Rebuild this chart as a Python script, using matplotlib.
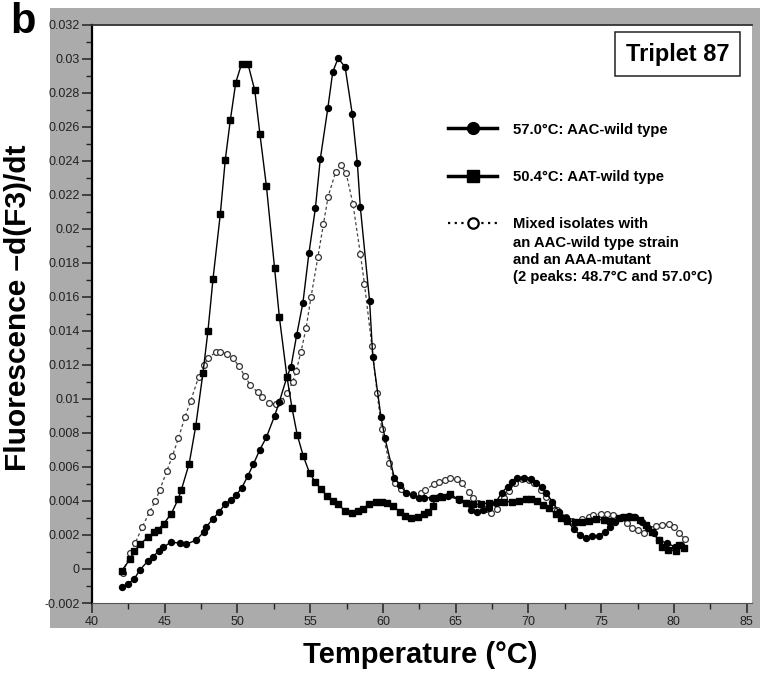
import matplotlib
matplotlib.use("Agg")
from matplotlib import pyplot as plt
from matplotlib.lines import Line2D
from matplotlib.patches import Rectangle
from matplotlib.ticker import MultipleLocator

# AAT wild type (square markers, peak 50.4 C)
aat_t = [42.04, 42.61, 42.91, 43.29, 43.86, 44.25, 44.51, 44.93, 45.45, 45.92,
         46.14, 46.68, 47.13, 47.63, 47.97, 48.32, 48.82, 49.16, 49.51, 49.88,
         50.28, 50.72, 51.19, 51.54, 51.99, 52.55, 52.88, 53.4, 53.75, 54.11,
         54.52, 54.96, 55.36, 55.72, 56.15, 56.55, 56.93, 57.4, 57.87, 58.27,
         58.61, 59.07, 59.52, 59.91, 60.26, 60.71, 61.14, 61.5, 61.92, 62.39,
         62.79, 63.07, 63.45, 63.55, 64.06, 64.58, 65.2, 65.71, 66.17, 66.74,
         67.31, 67.85, 68.35, 68.9, 69.36, 69.82, 70.16, 70.62, 71.02, 71.41,
         71.88, 72.21, 72.67, 73.2, 73.69, 74.18, 74.62, 75.17, 75.64, 76.21,
         76.66, 77.13, 77.7, 78.11, 78.5, 78.94, 79.19, 79.6, 80.13, 80.33, 80.67]
aat_f = [-0.0001, 0.00057, 0.00104, 0.00145, 0.00188, 0.00216, 0.00228, 0.00267, 0.00325, 0.0041,
         0.00465, 0.0062, 0.0084, 0.01155, 0.014, 0.01708, 0.02088, 0.02406, 0.02641, 0.0286,
         0.0297, 0.0297, 0.02814, 0.02559, 0.0225, 0.01769, 0.0148, 0.0113, 0.00945, 0.00788,
         0.00665, 0.00563, 0.0051, 0.00472, 0.00429, 0.00402, 0.0038, 0.00341, 0.00327, 0.00341,
         0.00355, 0.00382, 0.00394, 0.00394, 0.00388, 0.0037, 0.00337, 0.00311, 0.00298, 0.00308,
         0.00322, 0.00333, 0.0037, 0.00416, 0.00425, 0.00441, 0.0041, 0.0039, 0.0038, 0.00382,
         0.0039, 0.00395, 0.00396, 0.00396, 0.00402, 0.00412, 0.00412, 0.00402, 0.00376, 0.00357,
         0.00322, 0.00298, 0.00284, 0.00278, 0.00278, 0.00284, 0.00292, 0.00288, 0.00284, 0.00298,
         0.00308, 0.00308, 0.00288, 0.00259, 0.00219, 0.0017, 0.00131, 0.00112, 0.00106, 0.00141, 0.00122]

# AAC wild type (filled circles, peak 57.0 C)
aac_t = [42.04, 42.45, 42.91, 43.29, 43.86, 44.2, 44.6, 44.9, 45.45, 46.04,
         46.44, 47.17, 47.68, 47.87, 48.32, 48.71, 49.16, 49.53, 49.91, 50.3,
         50.72, 51.1, 51.54, 51.99, 52.55, 52.88, 53.4, 53.68, 54.07, 54.5,
         54.91, 55.36, 55.69, 56.21, 56.55, 56.92, 57.4, 57.89, 58.24, 58.44,
         59.08, 59.3, 59.86, 60.14, 60.78, 61.14, 61.6, 62.04, 62.45, 62.84,
         63.4, 63.9, 64.5, 65.25, 65.71, 66.07, 66.44, 66.86, 67.31, 67.76,
         68.15, 68.57, 68.9, 69.23, 69.72, 70.16, 70.52, 70.91, 71.2, 71.64,
         72.09, 72.55, 73.12, 73.57, 73.97, 74.37, 74.83, 75.24, 75.63, 75.96,
         76.42, 76.88, 77.34, 77.83, 78.25, 78.6, 78.98, 79.51, 80.09, 80.5]
aac_f = [-0.00104, -0.0009, -0.00057, -0.00006, 0.00049, 0.00072, 0.00108, 0.00128, 0.00159, 0.00151,
         0.00145, 0.0017, 0.00218, 0.00249, 0.00296, 0.00333, 0.00382, 0.00406, 0.00435, 0.00478,
         0.00549, 0.00618, 0.00702, 0.00775, 0.009, 0.00984, 0.0113, 0.0119, 0.01376, 0.01567,
         0.01857, 0.02125, 0.0241, 0.0271, 0.02924, 0.03004, 0.02951, 0.02675, 0.02386, 0.02131,
         0.01576, 0.01249, 0.00896, 0.00769, 0.00537, 0.00494, 0.00449, 0.00435, 0.00419, 0.00419,
         0.0042, 0.0043, 0.0043, 0.00406, 0.00386, 0.00347, 0.00337, 0.00347, 0.00357, 0.0039,
         0.00449, 0.00484, 0.00514, 0.00533, 0.00537, 0.00528, 0.00504, 0.0048, 0.00449, 0.00396,
         0.00337, 0.00298, 0.00233, 0.002, 0.0018, 0.00194, 0.00194, 0.00219, 0.00249, 0.00278,
         0.00308, 0.00314, 0.00308, 0.00278, 0.00239, 0.0021, 0.0017, 0.00151, 0.00131, 0.00141]

# mixed isolates (open circles, peaks 48.7 and 57.0 C)
mix_t = [42.15, 42.61, 42.96, 43.47, 43.96, 44.36, 44.66, 45.15, 45.53, 45.94,
         46.38, 46.79, 47.33, 47.7, 47.97, 48.55, 48.82, 49.28, 49.69, 50.07,
         50.5, 50.88, 51.39, 51.69, 52.16, 52.62, 53.01, 53.4, 53.8, 54.04,
         54.37, 54.72, 55.06, 55.53, 55.91, 56.23, 56.74, 57.1, 57.47, 57.94,
         58.45, 58.73, 59.24, 59.6, 59.91, 60.44, 60.86, 61.24, 61.6, 62.04,
         62.58, 62.88, 63.51, 63.86, 64.26, 64.58, 65.1, 65.4, 65.9, 66.2,
         66.53, 67.05, 67.46, 67.85, 68.32, 68.66, 69.11, 69.56, 70.02, 70.37,
         70.83, 71.18, 71.64, 71.98, 72.55, 73.01, 73.67, 74.15, 74.47, 74.96,
         75.42, 75.84, 76.22, 76.79, 77.13, 77.53, 77.93, 78.4, 78.78, 79.19,
         79.63, 79.99, 80.32, 80.78]
mix_f = [-0.00022, 0.00092, 0.00151, 0.00249, 0.00337, 0.004, 0.00465, 0.00578, 0.00665, 0.00769,
         0.00892, 0.0099, 0.0113, 0.012, 0.0124, 0.01278, 0.01278, 0.01265, 0.0124, 0.01196,
         0.01135, 0.01082, 0.01039, 0.01014, 0.00978, 0.0097, 0.00988, 0.01033, 0.011, 0.01167,
         0.01278, 0.0142, 0.01602, 0.01837, 0.02029, 0.0219, 0.02333, 0.02373, 0.02327, 0.02145,
         0.01851, 0.01675, 0.0131, 0.01033, 0.00824, 0.00622, 0.00504, 0.00469, 0.00445, 0.00439,
         0.00449, 0.00465, 0.00498, 0.0051, 0.00524, 0.00537, 0.00529, 0.00504, 0.00455, 0.0042,
         0.00386, 0.00351, 0.00327, 0.00351, 0.00416, 0.00459, 0.00508, 0.00528, 0.00524, 0.00508,
         0.00465, 0.00425, 0.00376, 0.00347, 0.00308, 0.00284, 0.00292, 0.00308, 0.00318, 0.00324,
         0.00324, 0.00318, 0.00298, 0.00269, 0.00239, 0.00229, 0.00214, 0.00235, 0.00253, 0.00259,
         0.00265, 0.00249, 0.00214, 0.00175]

labels = ["57.0°C: AAC-wild type",
          "50.4°C: AAT-wild type",
          "Mixed isolates with"]
mix_note = "an AAC-wild type strain\nand an AAA-mutant\n(2 peaks: 48.7°C and 57.0°C)"

narrow = ["Liberation Sans Narrow", "Liberation Sans", "DejaVu Sans"]
bold = ["Liberation Sans", "DejaVu Sans"]

fig = plt.figure(figsize=(7.68, 6.77), dpi=100)
# grey panel behind the plot
fig.patches.append(Rectangle((0.065, 0.0724), 0.925, 0.916, transform=fig.transFigure,
                             facecolor="#ababab", edgecolor="none", zorder=-1))
ax = fig.add_axes([0.1198, 0.1093, 0.86, 0.854])
ax.set_zorder(1)
ax.set_facecolor("white")

ax.plot(mix_t, mix_f, color="#444444", linestyle=(0, (2.5, 2)), linewidth=0.9,
        marker="o", markersize=4.2, markerfacecolor="white", markeredgecolor="#333333",
        markeredgewidth=0.9, zorder=3)
ax.plot(aat_t, aat_f, color="black", linewidth=1.0, marker="s", markersize=4.2, zorder=4)
ax.plot(aac_t, aac_f, color="black", linewidth=1.0, marker="o", markersize=4.3, zorder=5)

ax.set_xlim(40, 85.4)
ax.set_ylim(-0.002, 0.032)
ax.set_xticks([40, 45, 50, 55, 60, 65, 70, 75, 80, 85])
ax.xaxis.set_minor_locator(MultipleLocator(2.5))
yt = [-0.002 + 0.002 * i for i in range(18)]
ax.set_yticks(yt)
ax.set_yticklabels([f"{round(v, 3):g}" for v in yt])
ax.yaxis.set_minor_locator(MultipleLocator(0.001))
ax.set_ylim(-0.002, 0.032)
ax.tick_params(axis="both", which="major", length=7, width=1.1, color="#222222",
               labelsize=9, labelcolor="#222222", pad=2)
ax.tick_params(axis="both", which="minor", length=4, width=1.0, color="#222222")
for lab in ax.get_xticklabels() + ax.get_yticklabels():
    lab.set_family(narrow)

ax.spines["left"].set_linewidth(1.6)
ax.spines["top"].set_linewidth(1.3)
ax.spines["top"].set_color("#333333")
ax.spines["right"].set_visible(False)
ax.spines["bottom"].set_linewidth(0.8)
ax.spines["bottom"].set_color("#555555")

fig.text(0.547, 0.033, "Temperature (°C)", ha="center", va="center",
         fontsize=21, fontweight="bold", family=bold)
fig.text(0.024, 0.545, "Fluorescence \u2013d(F3)/dt", ha="center", va="center",
         rotation=90, fontsize=21.5, fontweight="bold", family=bold)
fig.text(0.014, 0.968, "b", ha="left", va="center", fontsize=30, fontweight="bold", family=bold)

ax.text(0.887, 0.949, "Triplet 87", transform=ax.transAxes, ha="center", va="center",
        fontsize=17, fontweight="bold", family=bold,
        bbox=dict(boxstyle="square,pad=0.45", facecolor="white", edgecolor="#222222", linewidth=1.1))

handles = [Line2D([], [], color="black", linewidth=2.5, marker="o", markersize=8.5),
           Line2D([], [], color="black", linewidth=2.5, marker="s", markersize=8.5),
           Line2D([], [], color="black", linewidth=1.6, linestyle=(0, (1, 2)), marker="o",
                  markersize=7.5, markerfacecolor="white", markeredgewidth=1.6)]
leg = ax.legend(handles, labels, loc="upper left", bbox_to_anchor=(0.539, 0.831),
                frameon=False, handlelength=3.3, handletextpad=1.05, labelspacing=2.25,
                borderpad=0, borderaxespad=0,
                prop={"family": bold, "weight": "bold", "size": 10.7})
# rest of the third legend label, placed under its first line
ax.annotate(mix_note, xy=(0, 0), xycoords=leg.get_texts()[2], xytext=(0, -3.5),
            textcoords="offset points", ha="left", va="top", linespacing=1.25,
            fontsize=10.7, fontweight="bold", family=bold, zorder=10)

fig.savefig("out.png", dpi=100, facecolor="white")
